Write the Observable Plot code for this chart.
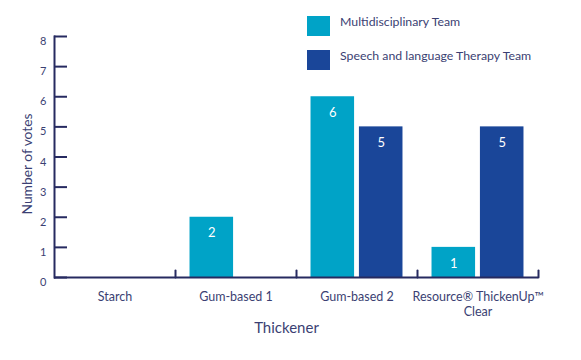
<!DOCTYPE html>
<html><head><meta charset="utf-8">
<script src="https://cdn.jsdelivr.net/npm/d3@7"></script>
<script src="https://cdn.jsdelivr.net/npm/@observablehq/plot@0.6"></script>
<style>
body{margin:0;background:#fff;font-family:Lato,sans-serif}
#wrap{position:relative;width:581px;height:360px}
#legend{position:absolute;left:307px;top:16px;z-index:2}
.item{position:relative;height:34px}
.sw{position:absolute;left:0;top:0;width:23px;height:20px}
.lab{position:absolute;left:33px;top:0;line-height:12px;font-size:12.3px;color:#3b3f73;white-space:nowrap}
svg{position:absolute;left:0;top:0}
</style></head><body>
<div id="wrap"><div id="legend"></div></div>
<script>
const categories = ["Starch", "Gum-based 1", "Gum-based 2", "Resource® ThickenUp™\nClear"];
const teams = ["Multidisciplinary Team", "Speech and language Therapy Team"];
const mdtVotes = [0, 2, 6, 1];
const sltVotes = [0, 0, 5, 5];
const yTicks = [0, 1, 2, 3, 4, 5, 6, 7, 8];
const colors = ["#00a3c7", "#1a4699"];
const axisColor = "#262a60";
const textColor = "#3b3f73";

const data = categories.flatMap((c, i) => [
  {category: c, team: teams[0], votes: mdtVotes[i]},
  {category: c, team: teams[1], votes: sltVotes[i]}
]);

const tickShape = {draw(context, l) { context.moveTo(0, 0); context.lineTo(0, -l); }};

const chart = Plot.plot({
  width: 581, height: 360,
  marginLeft: 54, marginRight: 43, marginTop: 36, marginBottom: 83,
  style: {fontFamily: "Lato, sans-serif", color: textColor, background: "transparent"},
  fx: {domain: categories, padding: 0, label: null},
  x: {domain: teams, paddingInner: 0.1, paddingOuter: 0.3, axis: null, round: false},
  y: {domain: [0, 8], label: null},
  color: {domain: teams, range: colors},
  marks: [
    Plot.barY(data, {fx: "category", x: "team", y: "votes", fill: "team"}),
    Plot.text(data.filter(d => d.votes > 0), {fx: "category", x: "team", y: "votes", text: d => String(d.votes), dy: 16, fill: "white", fontSize: 13}),
    Plot.ruleY([0], {stroke: axisColor, strokeWidth: 2}),
    Plot.vector([0], {y: d => d, frameAnchor: "right", length: 7, anchor: "start", rotate: 0, stroke: axisColor, strokeWidth: 2, shape: tickShape}),
    Plot.axisY(yTicks, {tickSize: -13, tickFormat: () => "", stroke: axisColor, strokeWidth: 2, label: null}),
    Plot.axisY(yTicks, {tickSize: 0, tickPadding: 8, dy: 5, fontSize: 11, fill: textColor, label: null}),
    Plot.frame({anchor: "left", facetAnchor: "left", stroke: axisColor, strokeWidth: 2}),
    Plot.axisFx({anchor: "bottom", tickSize: 0, tickPadding: 13, fontSize: 12.5, lineHeight: 1.2, fill: textColor, label: null}),
    Plot.text(["Thickener"], {facet: "super", frameAnchor: "bottom", dx: -10, dy: 55, fontSize: 15, fill: textColor}),
    Plot.text(["Number of votes"], {facet: "super", frameAnchor: "left", textAnchor: "middle", dx: -27, dy: 7, rotate: -90, fontSize: 13.8, fill: textColor})
  ]
});
document.getElementById("wrap").appendChild(chart);

const legend = document.getElementById("legend");
teams.forEach((t, i) => {
  const item = document.createElement("div");
  item.className = "item";
  const sw = document.createElement("div");
  sw.className = "sw";
  sw.style.background = colors[i];
  const lab = document.createElement("div");
  lab.className = "lab";
  lab.textContent = t;
  item.appendChild(sw);
  item.appendChild(lab);
  legend.appendChild(item);
});
</script>
</body></html>
